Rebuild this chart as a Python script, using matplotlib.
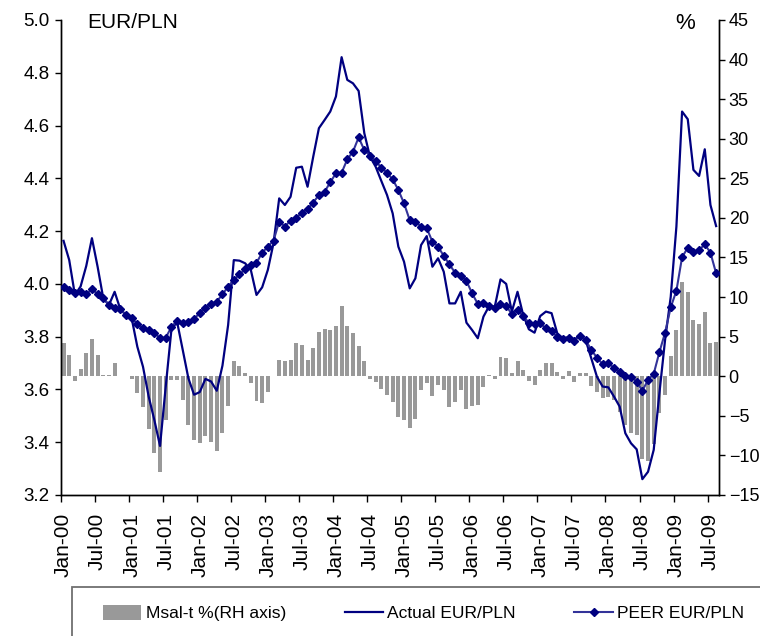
import numpy as np
import matplotlib
matplotlib.use("Agg")
import matplotlib.pyplot as plt
from matplotlib.patches import Patch, Rectangle
from matplotlib.lines import Line2D

# === Data (monthly, Jan-00 .. Aug-09) ===
actual = [4.163, 4.09, 3.958, 3.99, 4.068, 4.173, 4.065, 3.945, 3.92, 3.97,
          3.904, 3.882, 3.87, 3.762, 3.686, 3.573, 3.484, 3.386, 3.61, 3.825,
          3.857, 3.75, 3.642, 3.58, 3.59, 3.64, 3.63, 3.595, 3.69, 3.844,
          4.09, 4.088, 4.078, 4.053, 3.958, 3.987, 4.053, 4.154, 4.324, 4.299,
          4.33, 4.44, 4.444, 4.368, 4.482, 4.59, 4.621, 4.653, 4.71, 4.859,
          4.773, 4.76, 4.731, 4.571, 4.482, 4.444, 4.39, 4.337, 4.267, 4.141,
          4.084, 3.983, 4.021, 4.147, 4.181, 4.065, 4.097, 4.046, 3.926, 3.926,
          3.97, 3.853, 3.825, 3.794, 3.876, 3.916, 3.914, 4.017, 4.0, 3.895,
          3.97, 3.882, 3.828, 3.815, 3.878, 3.895, 3.889, 3.813, 3.794, 3.798,
          3.787, 3.806, 3.787, 3.718, 3.648, 3.611, 3.608, 3.573, 3.535, 3.434,
          3.396, 3.373, 3.26, 3.288, 3.371, 3.585, 3.787, 3.951, 4.217, 4.653,
          4.624, 4.432, 4.409, 4.51, 4.299, 4.219]

peer = [3.99, 3.977, 3.965, 3.97, 3.96, 3.98, 3.962, 3.945, 3.92, 3.91,
        3.904, 3.882, 3.872, 3.847, 3.833, 3.825, 3.815, 3.794, 3.796, 3.836,
        3.861, 3.853, 3.855, 3.866, 3.891, 3.91, 3.924, 3.933, 3.96, 3.99,
        4.015, 4.036, 4.055, 4.07, 4.08, 4.118, 4.141, 4.164, 4.236, 4.217,
        4.24, 4.25, 4.27, 4.283, 4.308, 4.337, 4.349, 4.385, 4.419, 4.421,
        4.472, 4.501, 4.555, 4.507, 4.486, 4.466, 4.44, 4.421, 4.396, 4.356,
        4.305, 4.242, 4.236, 4.217, 4.211, 4.16, 4.141, 4.106, 4.074, 4.042,
        4.031, 4.011, 3.964, 3.924, 3.926, 3.917, 3.907, 3.924, 3.916, 3.886,
        3.901, 3.878, 3.853, 3.848, 3.85, 3.832, 3.823, 3.798, 3.791, 3.796,
        3.785, 3.804, 3.787, 3.75, 3.72, 3.696, 3.699, 3.682, 3.667, 3.651,
        3.648, 3.629, 3.595, 3.636, 3.659, 3.741, 3.815, 3.911, 3.974, 4.101,
        4.137, 4.12, 4.128, 4.15, 4.118, 4.04]

misal = [4.25, 2.74, -0.6, 0.88, 2.9, 4.76, 2.74, 0.15, 0.1, 1.68,
         0, 0, -0.3, -2.1, -3.9, -6.65, -9.7, -12.1, -5.55, -0.5,
         -0.5, -3.0, -6.2, -8.0, -8.4, -7.5, -8.3, -9.5, -7.15, -3.75,
         1.94, 1.3, 0.46, -0.8, -3.16, -3.37, -1.98, 0, 2.1, 1.9,
         2.0, 4.2, 3.96, 2.0, 3.6, 5.6, 5.98, 5.8, 6.3, 8.9,
         6.3, 5.4, 3.8, 1.94, -0.4, -0.7, -1.56, -2.4, -3.24, -5.2,
         -5.56, -6.5, -5.35, -1.7, -0.8, -2.5, -1.14, -1.7, -3.9, -3.24,
         -1.7, -4.1, -3.8, -3.6, -1.4, 0.2, -0.4, 2.44, 2.3, 0.46,
         1.9, 0.76, -0.6, -1.05, 0.84, 1.7, 1.7, 0.55, -0.4, 0.67,
         -0.7, 0.42, 0.46, -1.26, -2.0, -2.7, -2.6, -3.0, -4.5, -6.2,
         -7.2, -7.45, -10.4, -10.7, -8.5, -4.7, -2.4, 2.5, 5.9, 11.9,
         10.65, 7.15, 6.57, 8.1, 4.25, 4.33]

tick_labels = ["Jan-00", "Jul-00", "Jan-01", "Jul-01", "Jan-02", "Jul-02",
               "Jan-03", "Jul-03", "Jan-04", "Jul-04", "Jan-05", "Jul-05",
               "Jan-06", "Jul-06", "Jan-07", "Jul-07", "Jan-08", "Jul-08",
               "Jan-09", "Jul-09"]

# === Style ===
plt.rcParams['font.family'] = ['Liberation Sans', 'DejaVu Sans']
NAVY = '#000080'
PEER_LINE = '#333399'
BAR = '#999999'

x = np.arange(len(actual))

fig = plt.figure(figsize=(7.6, 6.36), dpi=100)
ax = fig.add_axes([0.0799, 0.2217, 0.946 - 0.0799, 0.9686 - 0.2217])
ax_r = ax.twinx()

# bars on right axis, behind the lines
ax_r.bar(x, misal, width=0.7, color=BAR, zorder=1)
ax.set_zorder(ax_r.get_zorder() + 1)
ax.patch.set_visible(False)

ax.plot(x, actual, color=NAVY, lw=1.6, zorder=3)
ax.plot(x, peer, color=PEER_LINE, lw=1.5, marker='D', markersize=4.3,
        markerfacecolor=NAVY, markeredgecolor=NAVY, zorder=4)

ax.set_xlim(-0.5, len(actual) - 0.5)
ax.set_ylim(3.2, 5.0)
ax.set_yticks(np.arange(3.2, 5.01, 0.2))
ax.set_yticklabels([f"{v:.1f}" for v in np.arange(3.2, 5.01, 0.2)])
ax_r.set_ylim(-15, 45)
ax_r.set_yticks(np.arange(-15, 46, 5))

ax.set_xticks(np.arange(0, len(actual), 6))
ax.set_xticklabels(tick_labels, rotation=90, fontsize=15)
ax.set_xticks(np.arange(-0.5, len(actual), 6), minor=True)
ax.tick_params(axis='x', which='major', length=0, pad=13)
ax.tick_params(axis='x', which='minor', length=5, width=1, direction='out')
ax.tick_params(axis='y', length=4, width=1, direction='out', pad=4, labelsize=13.5)
ax_r.tick_params(axis='y', length=4, width=1, direction='out', pad=3, labelsize=13)

for a in (ax, ax_r):
    a.spines['top'].set_visible(False)
    for s in ('left', 'right', 'bottom'):
        a.spines[s].set_linewidth(1.0)
        a.spines[s].set_color('black')

fig.text(0.1145, 0.965, "EUR/PLN", fontsize=15, va='center', ha='left')
fig.text(0.901, 0.963, "%", fontsize=16, va='center', ha='center')

# === Legend (frame runs off the bottom/right edge as in the source) ===
fig.add_artist(Rectangle((72 / 760, -0.1), 1.0, 0.1 + 1 - 587 / 636,
                         transform=fig.transFigure, fill=False,
                         edgecolor='#707070', linewidth=1.3, clip_on=False))

handles = [Patch(facecolor=BAR, edgecolor='none'),
           Line2D([], [], color=NAVY, lw=1.6),
           Line2D([], [], color=PEER_LINE, lw=1.5, marker='D', markersize=4.3,
                  markerfacecolor=NAVY, markeredgecolor=NAVY)]
labels = ["Msal-t %(RH axis)", "Actual EUR/PLN", "PEER EUR/PLN"]
leg = fig.legend(handles, labels, ncol=3, loc='center left',
                 bbox_to_anchor=(103 / 760, 1 - 613 / 636, (744 - 103) / 760, 0),
                 mode='expand', fontsize=12.5, frameon=False,
                 borderpad=0, borderaxespad=0, handlelength=2.2,
                 handleheight=1.0, handletextpad=0.25)

fig.savefig("out.png", dpi=100)
